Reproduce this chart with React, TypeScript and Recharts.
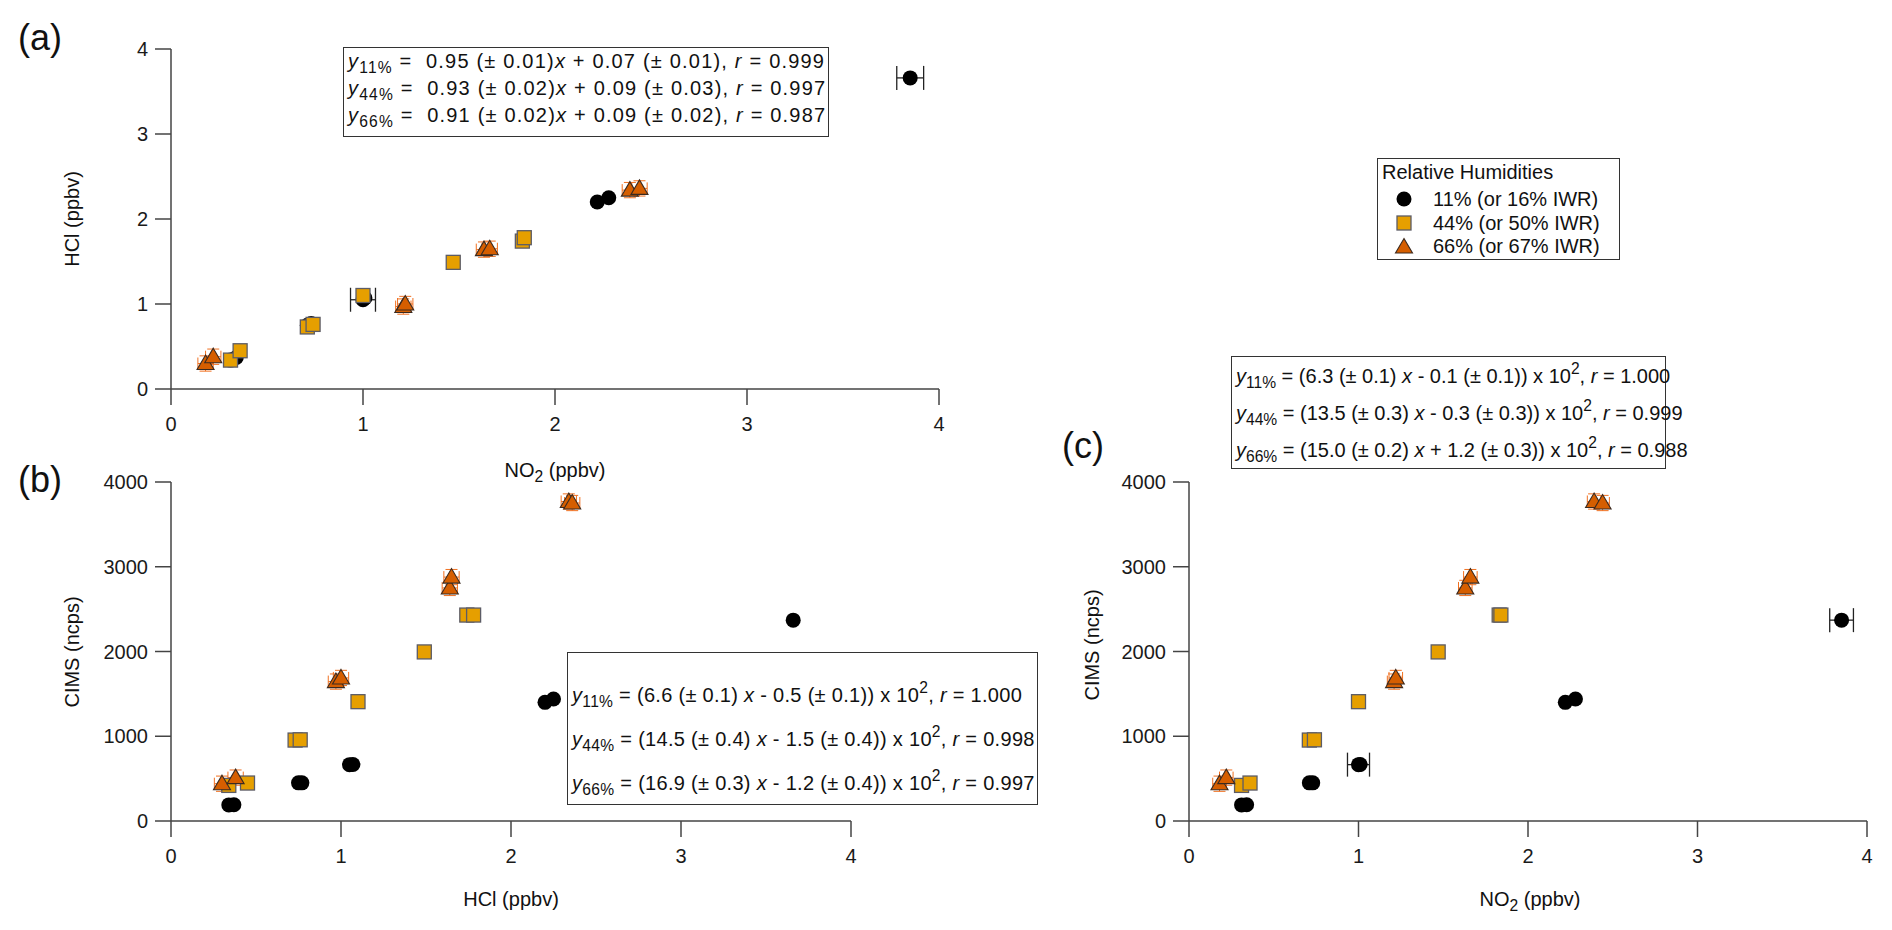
import React from "react";
import { ScatterChart, Scatter, XAxis, YAxis, ErrorBar } from "recharts";

// sample values; each index is one sample in all three panels
const no2_11 = [0.31, 0.34, 0.71, 0.73, 1.0, 1.01, 2.22, 2.28, 3.85];
const hcl_11 = [0.34, 0.37, 0.75, 0.77, 1.05, 1.07, 2.2, 2.25, 3.66];
const cims_11 = [190, 192, 450, 450, 665, 667, 1400, 1440, 2370];
const no2Err_11 = [0, 0, 0, 0, 0.065, 0, 0, 0, 0.07];

const no2_44 = [0.31, 0.36, 0.71, 0.74, 1.0, 1.47, 1.83, 1.84];
const hcl_44 = [0.34, 0.45, 0.73, 0.76, 1.1, 1.49, 1.74, 1.78];
const cims_44 = [420, 448, 955, 958, 1408, 1995, 2430, 2430];

const no2_66 = [0.18, 0.22, 1.21, 1.22, 1.63, 1.66, 2.39, 2.44];
const hcl_66 = [0.3, 0.38, 0.97, 1.0, 1.64, 1.65, 2.34, 2.36];
const cims_66 = [440, 512, 1645, 1688, 2750, 2878, 3770, 3752];
const no2Err_66 = [0.04, 0.04, 0.04, 0.04, 0.04, 0.04, 0.04, 0.04];
const hclErrY_66 = [0.09, 0.09, 0.09, 0.09, 0.09, 0.09, 0.09, 0.09];
const hclErr_66 = [0.045, 0.045, 0.045, 0.045, 0.045, 0.045, 0.045, 0.045];
const cimsErr_66 = [90, 90, 90, 90, 90, 90, 90, 90];

const ppbTicks = [0, 1, 2, 3, 4];
const cimsTicks = [0, 1000, 2000, 3000, 4000];

const FONT = '"Liberation Sans", Arial, sans-serif';
const AXIS = "#444";
const C11 = "#000000";
const C44 = "#E69F00";
const C66 = "#D55E00";
const ERR66 = "#F07020";

function rows(xs: number[], ys: number[], ex?: number[], ey?: number[]) {
  return xs.map((x, i) => ({ x, y: ys[i], ex: ex ? ex[i] : 0, ey: ey ? ey[i] : 0 }));
}

const CircleDot = (p: any) => <circle cx={p.cx} cy={p.cy} r={7.5} fill={C11} />;
const SquareDot = (p: any) => (
  <rect x={p.cx - 7} y={p.cy - 7} width={14} height={14} fill={C44} stroke="#5c5c66" strokeWidth={1.3} />
);
const TriangleDot = (p: any) => (
  <polygon
    points={`${p.cx},${p.cy - 8.5} ${p.cx + 8.5},${p.cy + 6} ${p.cx - 8.5},${p.cy + 6}`}
    fill={C66}
    stroke="#3a2a20"
    strokeWidth={1.1}
  />
);

const tickStyle = { fill: "#1a1a1a", fontSize: 20, fontFamily: FONT };

function Panel(props: {
  left: number;
  top: number;
  width: number;
  height: number;
  margin: { top: number; right: number; bottom: number; left: number };
  yWidth: number;
  xHeight: number;
  yMax: number;
  yTicks: number[];
  d11: any[];
  d44: any[];
  d66: any[];
  err11?: boolean;
}) {
  const { left, top, width, height, margin, yWidth, xHeight, yMax, yTicks, d11, d44, d66, err11 } = props;
  return (
    <div style={{ position: "absolute", left, top }}>
      <ScatterChart width={width} height={height} margin={margin}>
        <XAxis
          type="number"
          dataKey="x"
          domain={[0, 4]}
          ticks={ppbTicks}
          height={xHeight}
          axisLine={{ stroke: AXIS, strokeWidth: 1.5 }}
          tickLine={{ stroke: AXIS, strokeWidth: 1.5 }}
          tickSize={16}
          tickMargin={12}
          tick={tickStyle}
          allowDataOverflow
        />
        <YAxis
          type="number"
          dataKey="y"
          domain={[0, yMax]}
          ticks={yTicks}
          width={yWidth}
          axisLine={{ stroke: AXIS, strokeWidth: 1.5 }}
          tickLine={{ stroke: AXIS, strokeWidth: 1.5 }}
          tickSize={16}
          tickMargin={7}
          tick={tickStyle}
          allowDataOverflow
        />
        <Scatter data={d11} shape={CircleDot} isAnimationActive={false}>
          {err11 && <ErrorBar dataKey="ex" direction="x" width={12} stroke="#222" strokeWidth={1.3} />}
        </Scatter>
        <Scatter data={d44} shape={SquareDot} isAnimationActive={false} />
        <Scatter data={d66} shape={TriangleDot} isAnimationActive={false}>
          <ErrorBar dataKey="ex" direction="x" width={6} stroke={ERR66} strokeWidth={1} />
          <ErrorBar dataKey="ey" direction="y" width={6} stroke={ERR66} strokeWidth={1} />
        </Scatter>
      </ScatterChart>
    </div>
  );
}

const Y = () => <i>y</i>;
const Sub = ({ t }: { t: string }) => (
  <sub style={{ fontSize: "0.78em", verticalAlign: "-0.3em", lineHeight: 0 }}>{t}</sub>
);
const Sup = ({ t }: { t: string }) => (
  <sup style={{ fontSize: "0.78em", verticalAlign: "0.55em", lineHeight: 0 }}>{t}</sup>
);

function EqBox(props: {
  left: number;
  top: number;
  width: number;
  height: number;
  lh: number;
  pt: number;
  spacing?: number;
  lines: React.ReactNode[];
}) {
  return (
    <div
      style={{
        position: "absolute",
        left: props.left,
        top: props.top,
        width: props.width,
        height: props.height,
        boxSizing: "border-box",
        border: "1.5px solid #333",
        paddingTop: props.pt,
        paddingLeft: 4,
        fontSize: 20,
        lineHeight: `${props.lh}px`,
        letterSpacing: props.spacing ?? 0,
        whiteSpace: "nowrap",
        color: "#111",
        background: "#fff",
      }}
    >
      {props.lines.map((l, i) => (
        <div key={i}>{l}</div>
      ))}
    </div>
  );
}

function Text(props: { x: number; y: number; size: number; rotate?: boolean; children: React.ReactNode }) {
  return (
    <div
      style={{
        position: "absolute",
        left: props.x,
        top: props.y,
        transform: `translate(-50%, -50%)${props.rotate ? " rotate(-90deg)" : ""}`,
        fontSize: props.size,
        whiteSpace: "nowrap",
        color: "#111",
        lineHeight: 1,
      }}
    >
      {props.children}
    </div>
  );
}

const NO2 = () => (
  <span>
    NO<Sub t="2" /> (ppbv)
  </span>
);

function LegendIcon({ kind }: { kind: string }) {
  return (
    <svg width={20} height={20} style={{ position: "absolute", left: 16, top: 0 }}>
      {kind === "c" && <CircleDot cx={10} cy={11} />}
      {kind === "s" && <SquareDot cx={10} cy={11} />}
      {kind === "t" && <TriangleDot cx={10} cy={12} />}
    </svg>
  );
}

export default function App() {
  const a11 = rows(no2_11, hcl_11, no2Err_11);
  const a44 = rows(no2_44, hcl_44);
  const a66 = rows(no2_66, hcl_66, no2Err_66, hclErrY_66);
  const b11 = rows(hcl_11, cims_11);
  const b44 = rows(hcl_44, cims_44);
  const b66 = rows(hcl_66, cims_66, hclErr_66, cimsErr_66);
  const c11 = rows(no2_11, cims_11, no2Err_11);
  const c44 = rows(no2_44, cims_44);
  const c66 = rows(no2_66, cims_66, no2Err_66, cimsErr_66);

  return (
    <div
      style={{
        position: "absolute",
        left: 0,
        top: 0,
        width: 1892,
        height: 930,
        background: "#fff",
        fontFamily: FONT,
        overflow: "hidden",
      }}
    >
      <Panel
        left={0}
        top={0}
        width={1000}
        height={480}
        margin={{ top: 49, right: 61, bottom: 0, left: 0 }}
        yWidth={171}
        xHeight={91}
        yMax={4}
        yTicks={ppbTicks}
        d11={a11}
        d44={a44}
        d66={a66}
        err11
      />
      <Panel
        left={0}
        top={400}
        width={900}
        height={480}
        margin={{ top: 82, right: 49, bottom: 0, left: 0 }}
        yWidth={171}
        xHeight={59}
        yMax={4000}
        yTicks={cimsTicks}
        d11={b11}
        d44={b44}
        d66={b66}
      />
      <Panel
        left={1000}
        top={400}
        width={892}
        height={480}
        margin={{ top: 82, right: 25, bottom: 0, left: 0 }}
        yWidth={189}
        xHeight={59}
        yMax={4000}
        yTicks={cimsTicks}
        d11={c11}
        d44={c44}
        d66={c66}
        err11
      />

      <Text x={40} y={38} size={36}>(a)</Text>
      <Text x={40} y={480} size={36}>(b)</Text>
      <Text x={1083} y={446} size={36}>(c)</Text>

      <Text x={72} y={219} size={20} rotate>HCl (ppbv)</Text>
      <Text x={72} y={652} size={20} rotate>CIMS (ncps)</Text>
      <Text x={1092} y={645} size={20} rotate>CIMS (ncps)</Text>

      <Text x={555} y={470} size={20}><NO2 /></Text>
      <Text x={511} y={899} size={20}>HCl (ppbv)</Text>
      <Text x={1530} y={899} size={20}><NO2 /></Text>

      <EqBox
        left={343}
        top={47}
        width={486}
        height={90}
        lh={27}
        pt={0}
        spacing={1.2}
        lines={[
          <>
            <Y /><Sub t="11%" /> = &nbsp;0.95 (± 0.01)<i>x</i> + 0.07 (± 0.01), <i>r</i> = 0.999
          </>,
          <>
            <Y /><Sub t="44%" /> = &nbsp;0.93 (± 0.02)<i>x</i> + 0.09 (± 0.03), <i>r</i> = 0.997
          </>,
          <>
            <Y /><Sub t="66%" /> = &nbsp;0.91 (± 0.02)<i>x</i> + 0.09 (± 0.02), <i>r</i> = 0.987
          </>,
        ]}
      />
      <EqBox
        left={567}
        top={652}
        width={471}
        height={153}
        lh={44}
        pt={20}
        spacing={0.3}
        lines={[
          <>
            <Y /><Sub t="11%" /> = (6.6 (± 0.1) <i>x</i> - 0.5 (± 0.1)) x 10<Sup t="2" />, <i>r</i> = 1.000
          </>,
          <>
            <Y /><Sub t="44%" /> = (14.5 (± 0.4) <i>x</i> - 1.5 (± 0.4)) x 10<Sup t="2" />, <i>r</i> = 0.998
          </>,
          <>
            <Y /><Sub t="66%" /> = (16.9 (± 0.3) <i>x</i> - 1.2 (± 0.4)) x 10<Sup t="2" />, <i>r</i> = 0.997
          </>,
        ]}
      />
      <EqBox
        left={1231}
        top={356}
        width={435}
        height={113}
        lh={37}
        pt={1}
        lines={[
          <>
            <Y /><Sub t="11%" /> = (6.3 (± 0.1) <i>x</i> - 0.1 (± 0.1)) x 10<Sup t="2" />, <i>r</i> = 1.000
          </>,
          <>
            <Y /><Sub t="44%" /> = (13.5 (± 0.3) <i>x</i> - 0.3 (± 0.3)) x 10<Sup t="2" />, <i>r</i> = 0.999
          </>,
          <>
            <Y /><Sub t="66%" /> = (15.0 (± 0.2) <i>x</i> + 1.2 (± 0.3)) x 10<Sup t="2" />, <i>r</i> = 0.988
          </>,
        ]}
      />

      <div
        style={{
          position: "absolute",
          left: 1377,
          top: 158,
          width: 243,
          height: 102,
          boxSizing: "border-box",
          border: "1.5px solid #333",
          fontSize: 20,
          color: "#111",
          whiteSpace: "nowrap",
        }}
      >
        <div style={{ position: "absolute", left: 4, top: 2, lineHeight: "22px" }}>Relative Humidities</div>
        {[
          { k: "c", t: "11% (or 16% IWR)" },
          { k: "s", t: "44% (or 50% IWR)" },
          { k: "t", t: "66% (or 67% IWR)" },
        ].map((r, i) => (
          <div key={r.k} style={{ position: "absolute", left: 0, top: 29 + i * 23.5, height: 22, width: 240 }}>
            <LegendIcon kind={r.k} />
            <span style={{ position: "absolute", left: 55, top: 0, lineHeight: "22px" }}>{r.t}</span>
          </div>
        ))}
      </div>
    </div>
  );
}
